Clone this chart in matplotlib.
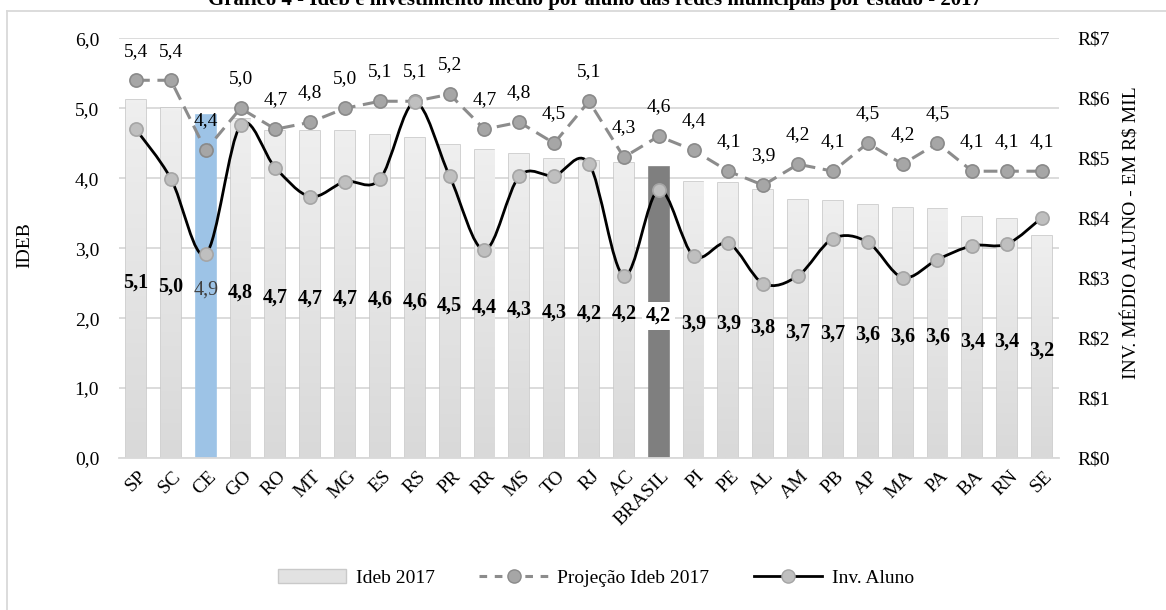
import matplotlib.pyplot as plt
from matplotlib.path import Path
from matplotlib.patches import PathPatch, Patch
from matplotlib.lines import Line2D
from matplotlib.colors import LinearSegmentedColormap
from matplotlib.transforms import ScaledTranslation
import numpy as np

plt.rcParams['font.family'] = ['Liberation Serif', 'DejaVu Serif']

# dados
estados = ['SP', 'SC', 'CE', 'GO', 'RO', 'MT', 'MG', 'ES', 'RS', 'PR', 'RR', 'MS', 'TO', 'RJ',
           'AC', 'BRASIL', 'PI', 'PE', 'AL', 'AM', 'PB', 'AP', 'MA', 'PA', 'BA', 'RN', 'SE']
ideb_2017 = [5.12, 5.01, 4.90, 4.84, 4.68, 4.67, 4.67, 4.62, 4.58, 4.47, 4.40, 4.34, 4.27, 4.24,
             4.22, 4.16, 3.94, 3.93, 3.83, 3.69, 3.67, 3.62, 3.58, 3.56, 3.44, 3.42, 3.18]
projecao_2017 = [5.4, 5.4, 4.4, 5.0, 4.7, 4.8, 5.0, 5.1, 5.1, 5.2, 4.7, 4.8, 4.5, 5.1,
                 4.3, 4.6, 4.4, 4.1, 3.9, 4.2, 4.1, 4.5, 4.2, 4.5, 4.1, 4.1, 4.1]
inv_aluno = [5.48, 4.66, 3.40, 5.55, 4.84, 4.36, 4.61, 4.65, 5.93, 4.70, 3.47, 4.70, 4.71, 4.91,
             3.04, 4.47, 3.37, 3.58, 2.91, 3.04, 3.66, 3.60, 3.01, 3.31, 3.54, 3.57, 4.01]


def fmt(v):
    return '{:.1f}'.format(v).replace('.', ',')


def smoothPath(xs, ys):
    '''
    curva suave (tipo Excel) passando pelos pontos: Catmull-Rom em Bezier
    '''
    pts = np.column_stack([xs, ys]).astype(float)
    p = np.vstack([pts[0], pts, pts[-1]])
    verts = [pts[0]]
    codes = [Path.MOVETO]
    for i in range(1, len(p) - 2):
        c1 = p[i] + (p[i + 1] - p[i - 1]) / 6.0
        c2 = p[i + 1] - (p[i + 2] - p[i]) / 6.0
        verts += [c1, c2, p[i + 1]]
        codes += [Path.CURVE4] * 3
    return Path(verts, codes)


fig = plt.figure(figsize=(11.66, 6.10), dpi=100)
ax = fig.add_axes([118.6 / 1166, 1 - 458 / 610, (1059.4 - 118.6) / 1166, (458 - 38.3) / 610])

n = len(estados)
x = np.arange(n)
cores = ['#e2e2e2'] * n
bordas = ['#c9c9c9'] * n
cores[estados.index('CE')] = '#9dc3e6'
bordas[estados.index('CE')] = '#9dc3e6'
cores[estados.index('BRASIL')] = '#7f7f7f'
bordas[estados.index('BRASIL')] = '#7f7f7f'

bars = ax.bar(x, ideb_2017, width=0.57, color=cores, edgecolor=bordas, linewidth=1.2, zorder=2)

# degradê nas barras cinza claro
grad = LinearSegmentedColormap.from_list('g', ['#d9d9d9', '#efefef'])
for i, b in enumerate(bars):
    if estados[i] in ('CE', 'BRASIL'):
        continue
    im = ax.imshow(np.linspace(0, 1, 100).reshape(-1, 1), cmap=grad, origin='lower', aspect='auto',
                   extent=[b.get_x(), b.get_x() + b.get_width(), 0, b.get_height()], zorder=2.1)
    im.set_clip_path(b)

# rótulos das barras
for i, h in enumerate(ideb_2017):
    if estados[i] == 'CE':
        ax.text(i, h / 2 - 0.05, fmt(h), ha='center', va='center', fontsize=14.5, color='#404040', zorder=5)
    elif estados[i] == 'BRASIL':
        ax.text(i, h / 2 - 0.05, fmt(h), ha='center', va='center', fontsize=14.5, fontweight='bold',
                bbox=dict(facecolor='white', edgecolor='none', pad=3), zorder=5)
    else:
        ax.text(i, h / 2 - 0.05, fmt(h), ha='center', va='center', fontsize=14.5, fontweight='bold', zorder=5)

# projeção
ax.plot(x, projecao_2017, color='#8c8c8c', lw=2.2, dashes=(4.5, 2.5), marker='o', ms=9.5,
        mfc='#a6a6a6', mec='#8a8a8a', mew=1.2, zorder=4)
for i, v in enumerate(projecao_2017):
    ax.annotate(fmt(v), (i, v), xytext=(0, 21), textcoords='offset points',
                ha='center', va='center', fontsize=14)

ax.set_xlim(-0.5, n - 0.5)
ax.set_ylim(0, 6)
ax.set_yticks(np.arange(0, 7))
ax.set_yticklabels([fmt(v) for v in np.arange(0, 7)])
ax.yaxis.grid(True, color='#d9d9d9', lw=1.3)
ax.set_axisbelow(True)
for s in ['top', 'left', 'right']:
    ax.spines[s].set_visible(False)
ax.spines['bottom'].set_color('#d9d9d9')
ax.spines['bottom'].set_linewidth(1.3)
ax.tick_params(axis='y', length=0, labelsize=14, pad=14)
ax.set_xticks(x)
ax.set_xticklabels(estados, rotation=45, ha='right', fontsize=14)
ax.tick_params(axis='x', length=0, pad=7)
for lab in ax.get_xticklabels():
    lab.set_transform(lab.get_transform() + ScaledTranslation(0.14, 0, fig.dpi_scale_trans))

# investimento por aluno (eixo direito)
ax2 = ax.twinx()
ax2.set_ylim(0, 7)
ax2.set_yticks(np.arange(0, 8))
ax2.set_yticklabels(['R$' + str(v) for v in range(8)])
ax2.tick_params(axis='y', length=0, labelsize=14, pad=13)
for s in ax2.spines.values():
    s.set_visible(False)
ax2.add_patch(PathPatch(smoothPath(x, inv_aluno), facecolor='none', edgecolor='black', lw=2, zorder=3))
ax2.plot(x, inv_aluno, ls='none', marker='o', ms=9.5, mfc='#bfbfbf', mec='#a5a5a5', mew=1.2, zorder=4)

fig.text(25 / 1166, 1 - 245 / 610, 'IDEB', rotation=90, ha='center', va='center', fontsize=14)
fig.text(1132 / 1166, 1 - 233 / 610, 'INV. MÉDIO ALUNO - EM R$ MIL', rotation=90,
         ha='center', va='center', fontsize=14)

# título (cortado no topo, como na figura)
fig.text(0.51, 1 - 5 / 610, 'Gráfico 4 - Ideb e investimento médio por aluno das redes municipais por estado - 2017',
         ha='center', va='baseline', fontsize=15, fontweight='bold')

# moldura
fig.add_artist(Line2D([7 / 1166, 1], [1 - 11 / 610, 1 - 11 / 610], color='#d9d9d9', lw=1.3))
fig.add_artist(Line2D([7 / 1166, 7 / 1166], [0, 1 - 11 / 610], color='#d9d9d9', lw=1.3))

handles = [
    Patch(facecolor='#e2e2e2', edgecolor='#c9c9c9'),
    Line2D([], [], color='#8c8c8c', lw=2.2, dashes=(2.5, 2.5), marker='o', ms=9.5,
           mfc='#a6a6a6', mec='#8a8a8a'),
    Line2D([], [], color='black', lw=2, marker='o', ms=9.5, mfc='#bfbfbf', mec='#a5a5a5'),
]
fig.legend(handles, ['Ideb 2017', 'Projeção Ideb 2017', 'Inv. Aluno'], loc='center',
           bbox_to_anchor=(596 / 1166, 1 - 578 / 610), ncol=3, frameon=False, fontsize=14,
           handlelength=3.5, handleheight=0.7, handletextpad=0.5, columnspacing=2.3)

plt.savefig('out.png', dpi=100)
